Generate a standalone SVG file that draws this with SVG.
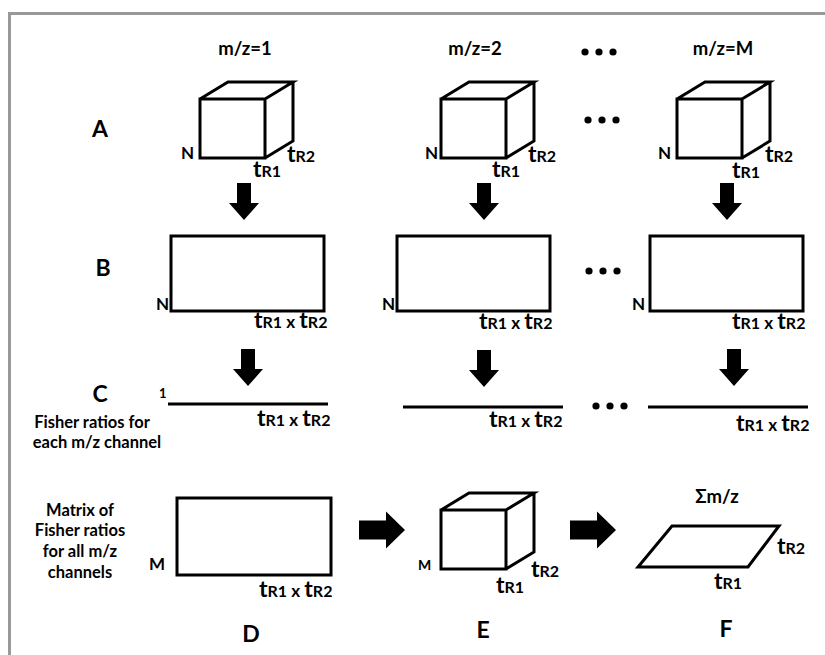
<svg xmlns="http://www.w3.org/2000/svg" width="825" height="655" viewBox="0 0 825 655">
  <style>
    text { font-family: Lato, "Liberation Sans", Arial, sans-serif; font-weight: bold; fill: #000; }
    .frame { fill: none; stroke: #999; stroke-width: 3; }
    .shape { fill: #fff; stroke: #000; stroke-width: 3; stroke-linejoin: miter; }
    .line { stroke: #000; stroke-width: 3; }
    .big { font-size: 23px; text-anchor: middle; }
    .hdr { font-size: 18.5px; text-anchor: middle; }
    .lbl { font-size: 17px; }
    .note { font-size: 16.5px; text-anchor: middle; }
    .t { font-size: 23px; }
    .s { font-size: 16px; }
    .arrow { fill: #000; }
    .dot { fill: #000; }
  </style>
  <defs>
    <!-- block arrow pointing down, origin at top centre of shaft -->
    <path id="down" d="M-7,0 h14 v20 h8 l-15,17 l-15,-17 h8 z"/>
    <!-- block arrow pointing right, origin at left centre of shaft -->
    <path id="right" d="M0,-9.5 h27 v-9 l19,18.5 l-19,18.5 v-9 h-27 z"/>
    <!-- 3-D box: front face 65x59, depth offset (28,-17) -->
    <path id="cube" d="M0,0 h65 v59 h-65 z M0,0 l28,-17 h65 l-28,17 M93,-17 v59 l-28,17"/>
    <!-- ellipsis of three dots -->
    <g id="dots">
      <circle class="dot" cx="0" cy="0" r="3.6"/>
      <circle class="dot" cx="14" cy="0" r="3.6"/>
      <circle class="dot" cx="28" cy="0" r="3.6"/>
    </g>
  </defs>

  <!-- outer frame (top and left edges) -->
  <path class="frame" d="M9.5,655 V13.5 H825"/>

  <!-- row labels -->
  <g id="row-labels">
    <text class="big" x="100" y="137">A</text>
    <text class="big" x="103" y="276">B</text>
    <text class="big" x="100" y="402">C</text>
    <text class="note" x="92" y="428">Fisher ratios for</text>
    <text class="note" x="97" y="448">each m/z channel</text>
    <text class="note" x="80" y="516">Matrix of</text>
    <text class="note" x="80" y="536">Fisher ratios</text>
    <text class="note" x="80" y="557">for all m/z</text>
    <text class="note" x="80" y="578">channels</text>
  </g>

  <!-- channel headers -->
  <g id="headers">
    <text class="hdr" x="245" y="55">m/z=1</text>
    <text class="hdr" x="475" y="55">m/z=2</text>
    <text class="hdr" x="723" y="55">m/z=M</text>
  </g>

  <!-- row A: data cubes -->
  <g id="cube-1">
    <use href="#cube" class="shape" x="200" y="99"/>
    <text class="lbl" x="181" y="159">N</text>
    <text class="lbl" x="253" y="177"><tspan class="t">t</tspan><tspan class="s">R1</tspan></text>
    <text class="lbl" x="287" y="162"><tspan class="t">t</tspan><tspan class="s">R2</tspan></text>
  </g>
  <g id="cube-2">
    <use href="#cube" class="shape" x="441" y="99"/>
    <text class="lbl" x="425" y="159">N</text>
    <text class="lbl" x="492" y="177"><tspan class="t">t</tspan><tspan class="s">R1</tspan></text>
    <text class="lbl" x="528" y="162"><tspan class="t">t</tspan><tspan class="s">R2</tspan></text>
  </g>
  <g id="cube-m">
    <use href="#cube" class="shape" x="677" y="99"/>
    <text class="lbl" x="658" y="159">N</text>
    <text class="lbl" x="732" y="178"><tspan class="t">t</tspan><tspan class="s">R1</tspan></text>
    <text class="lbl" x="765" y="162"><tspan class="t">t</tspan><tspan class="s">R2</tspan></text>
  </g>

  <!-- row B: unfolded matrices -->
  <g id="matrix-1">
    <rect class="shape" x="171" y="236" width="153" height="75"/>
    <text class="lbl" x="156" y="310">N</text>
    <text class="lbl" x="254" y="328"><tspan class="t">t</tspan><tspan class="s">R1</tspan> x <tspan class="t">t</tspan><tspan class="s">R2</tspan></text>
  </g>
  <g id="matrix-2">
    <rect class="shape" x="397" y="236" width="153" height="75"/>
    <text class="lbl" x="382" y="310">N</text>
    <text class="lbl" x="479" y="329"><tspan class="t">t</tspan><tspan class="s">R1</tspan> x <tspan class="t">t</tspan><tspan class="s">R2</tspan></text>
  </g>
  <g id="matrix-m">
    <rect class="shape" x="650" y="236" width="153" height="75"/>
    <text class="lbl" x="632" y="310">N</text>
    <text class="lbl" x="732" y="329"><tspan class="t">t</tspan><tspan class="s">R1</tspan> x <tspan class="t">t</tspan><tspan class="s">R2</tspan></text>
  </g>

  <!-- row C: Fisher ratio vectors -->
  <g id="vector-1">
    <line class="line" x1="168" y1="404" x2="328" y2="404"/>
    <text class="lbl" x="159" y="398" style="font-size:13px">1</text>
    <text class="lbl" x="257" y="426"><tspan class="t">t</tspan><tspan class="s">R1</tspan> x <tspan class="t">t</tspan><tspan class="s">R2</tspan></text>
  </g>
  <g id="vector-2">
    <line class="line" x1="403" y1="407" x2="563" y2="407"/>
    <text class="lbl" x="489" y="427"><tspan class="t">t</tspan><tspan class="s">R1</tspan> x <tspan class="t">t</tspan><tspan class="s">R2</tspan></text>
  </g>
  <g id="vector-m">
    <line class="line" x1="648" y1="407" x2="808" y2="407"/>
    <text class="lbl" x="736" y="431"><tspan class="t">t</tspan><tspan class="s">R1</tspan> x <tspan class="t">t</tspan><tspan class="s">R2</tspan></text>
  </g>

  <!-- ellipses between channels -->
  <g id="ellipses">
    <use href="#dots" x="585" y="52"/>
    <use href="#dots" x="588" y="120"/>
    <use href="#dots" x="589" y="271"/>
    <use href="#dots" x="596" y="406"/>
  </g>

  <!-- D: matrix of Fisher ratios -->
  <g id="matrix-d">
    <rect class="shape" x="177" y="498" width="154" height="77"/>
    <text class="lbl" x="149" y="570">M</text>
    <text class="lbl" x="259" y="597"><tspan class="t">t</tspan><tspan class="s">R1</tspan> x <tspan class="t">t</tspan><tspan class="s">R2</tspan></text>
    <text class="big" x="251" y="642">D</text>
  </g>

  <!-- E: refolded cube -->
  <g id="cube-e">
    <use href="#cube" class="shape" x="441" y="510"/>
    <text class="lbl" x="418" y="570" style="font-size:14px">M</text>
    <text class="lbl" x="496" y="593"><tspan class="t">t</tspan><tspan class="s">R1</tspan></text>
    <text class="lbl" x="531" y="577"><tspan class="t">t</tspan><tspan class="s">R2</tspan></text>
    <text class="big" x="483" y="638">E</text>
  </g>

  <!-- F: summed plane -->
  <g id="plane-f">
    <path class="shape" d="M638,567 H748 L779,526 H672 Z"/>
    <text class="hdr" x="717" y="503">Σm/z</text>
    <text class="lbl" x="777" y="554"><tspan class="t">t</tspan><tspan class="s">R2</tspan></text>
    <text class="lbl" x="714" y="589"><tspan class="t">t</tspan><tspan class="s">R1</tspan></text>
    <text class="big" x="726" y="637">F</text>
  </g>

  <!-- block arrows -->
  <g id="connectors" class="arrow">
    <use href="#down" x="244" y="183"/>
    <use href="#down" x="484" y="183"/>
    <use href="#down" x="727" y="183"/>
    <use href="#down" x="248" y="349"/>
    <use href="#down" x="484" y="350"/>
    <use href="#down" x="734" y="349"/>
    <use href="#right" x="359" y="530"/>
    <use href="#right" x="570" y="530"/>
  </g>
</svg>
